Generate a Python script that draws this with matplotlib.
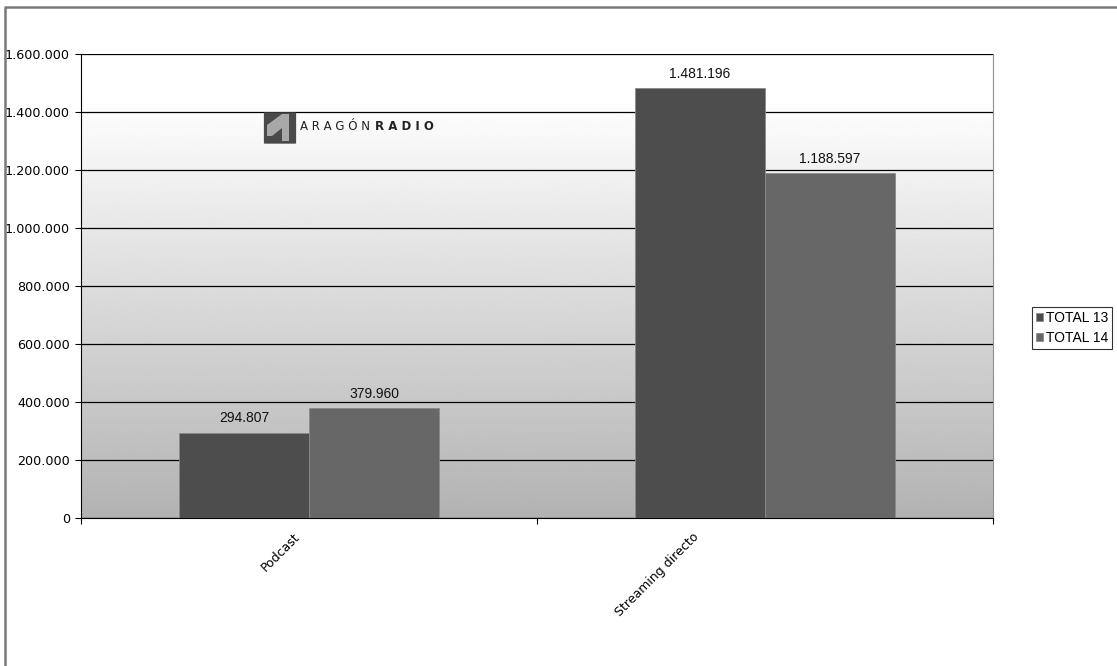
import numpy as np
import matplotlib
matplotlib.use("Agg")
import matplotlib.pyplot as plt
from matplotlib.lines import Line2D
from matplotlib.patches import FancyBboxPatch, Polygon

categories = ["Podcast", "Streaming directo"]
series_names = ["TOTAL 13", "TOTAL 14"]
total13 = [294807, 1481196]
total14 = [379960, 1188597]
yticks = [0, 200000, 400000, 600000, 800000, 1000000, 1200000, 1400000, 1600000]
colors = ["#4d4d4d", "#676767"]


def fmt(v):
    return f"{v:,}".replace(",", ".")


W, H = 1117, 666
fig = plt.figure(figsize=(W / 100, H / 100), dpi=100)
ax = fig.add_axes([81 / W, (H - 518) / H, 912 / W, 464 / H])

# background gradient, white on top to grey at bottom
grad = np.clip(np.linspace(0.70, 1.03, 256), 0, 1).reshape(-1, 1)
ax.imshow(grad, extent=(-0.5, 1.5, 0, 1600000), origin="lower", aspect="auto",
          cmap="gray", vmin=0, vmax=1, zorder=0)

x = np.arange(len(categories))
w = 0.285
b1 = ax.bar(x - w / 2, total13, w, color=colors[0], edgecolor="#8a8a8a", linewidth=0.6,
            label=series_names[0], zorder=3)
b2 = ax.bar(x + w / 2, total14, w, color=colors[1], edgecolor="#8a8a8a", linewidth=0.6,
            label=series_names[1], zorder=3)

for bars, vals in ((b1, total13), (b2, total14)):
    for r, v in zip(bars, vals):
        ax.text(r.get_x() + r.get_width() / 2, v + 25000, fmt(v), ha="center", va="bottom",
                fontsize=10, family="Liberation Sans", color="#111111", zorder=4)

ax.set_xlim(-0.5, 1.5)
ax.set_ylim(0, 1600000)
ax.set_yticks(yticks)
ax.set_yticklabels([fmt(v) for v in yticks], fontsize=9.2, family="DejaVu Sans")
ax.yaxis.grid(True, color="#000000", linewidth=0.9, zorder=1)
ax.set_axisbelow(True)

ax.set_xticks([-0.5, 0.5, 1.5])
ax.set_xticklabels([])
ax.tick_params(axis="x", length=4, direction="out")
ax.tick_params(axis="y", length=4, direction="out", pad=4)
label_shift = [-0.034, -0.160]
for i, c in enumerate(categories):
    ax.text(i + label_shift[i], -42000, c, rotation=45, rotation_mode="anchor",
            ha="right", va="top", fontsize=9, family="DejaVu Sans")

ax.spines["top"].set_visible(False)
ax.spines["right"].set_color("#909090")
ax.spines["left"].set_color("#000000")
ax.spines["bottom"].set_color("#000000")

leg = fig.legend(handles=[b1, b2], labels=series_names, loc="center left",
                 bbox_to_anchor=(1032 / W, (H - 328) / H), frameon=True,
                 fancybox=False, edgecolor="#000000", handlelength=0.5, handleheight=0.5,
                 handletextpad=0.2, borderpad=0.3, labelspacing=0.4, borderaxespad=0,
                 prop={"family": "Liberation Sans", "size": 10})
leg.get_frame().set_linewidth(0.8)

# logo
icon = FancyBboxPatch((265 / W, (H - 143) / H), 30 / W, 30 / H,
                      boxstyle="round,pad=0.001", transform=fig.transFigure,
                      facecolor="#4a4a4a", edgecolor="none", zorder=5)
fig.add_artist(icon)
shape = Polygon([(267 / W, (H - 125) / H), (282 / W, (H - 114) / H), (289 / W, (H - 114) / H),
                 (289 / W, (H - 141) / H), (282 / W, (H - 141) / H), (282 / W, (H - 128) / H),
                 (272 / W, (H - 136) / H), (267 / W, (H - 136) / H)],
                closed=True, transform=fig.transFigure, facecolor="#a8a8a8",
                edgecolor="none", zorder=6)
fig.add_artist(shape)
fig.text(300 / W, (H - 127) / H, "A R A G Ó N", fontsize=8.5, family="DejaVu Sans",
         color="#222222", va="center", ha="left")
fig.text(375 / W, (H - 127) / H, "R A D I O", fontsize=8.5, family="DejaVu Sans",
         weight="bold", color="#222222", va="center", ha="left")

# outer frame
fig.add_artist(Line2D([4.5 / W, 4.5 / W, 1.0], [0, (H - 7) / H, (H - 7) / H],
                      transform=fig.transFigure, color="#7a7a7a", linewidth=1.8))

fig.savefig("out.png", dpi=100)
